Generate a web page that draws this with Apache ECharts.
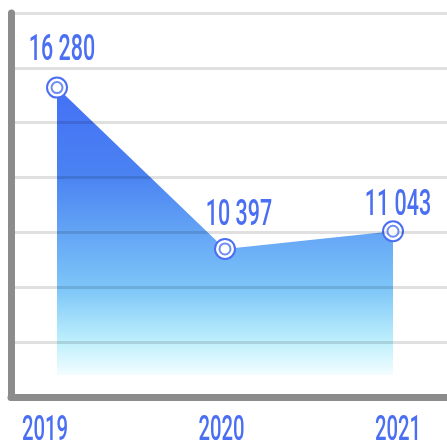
<!DOCTYPE html>
<html>
<head>
<meta charset="utf-8">
<script src="https://cdn.jsdelivr.net/npm/echarts@6/dist/echarts.min.js"></script>
<style>
  html, body { margin: 0; padding: 0; background: #ffffff; }
  #chart { width: 447px; height: 445px; }
</style>
</head>
<body>
<div id="chart"></div>
<script>
// Yearly totals
var years = ['2019', '2020', '2021'];
var totals = [16280, 10397, 11043];
var labelTexts = ['16 280', '10 397', '11 043'];
// Value axis range
var yMin = 5000;
var yMax = 19000;
var yStep = 2000;

var blue = '#4b6ff2';
var textFont = 'Roboto, "Noto Sans", sans-serif';
// label nudges relative to each point (px)
var labelShift = [[5, -37], [14, -33], [5, -25]];

var chart = echarts.init(document.getElementById('chart'), null, { renderer: 'canvas' });

// condensed-looking text drawn at a data coordinate
function condensedText(p, dx, dy, text, size) {
  return {
    type: 'text',
    x: p[0] + dx,
    y: p[1] + dy,
    scaleX: 0.58,
    style: {
      text: text,
      fill: blue,
      font: '500 ' + size + 'px ' + textFont,
      align: 'center',
      verticalAlign: 'middle'
    }
  };
}

chart.setOption({
  animation: false,
  grid: [
    { left: 11, right: 0, top: 13, bottom: 48 },   // frame + gridlines
    { left: 57, right: 54, top: 13, bottom: 48 },  // data
    { left: 45, right: 49, top: 13, bottom: 48 }   // year labels
  ],
  xAxis: [
    {
      gridIndex: 0, type: 'category', data: years, boundaryGap: false,
      axisLine: { show: true, lineStyle: { color: '#8c8c8c', width: 7, cap: 'round' } },
      axisTick: { show: false }, axisLabel: { show: false }, splitLine: { show: false }, z: 10
    },
    { gridIndex: 1, type: 'category', data: years, boundaryGap: false, show: false },
    { gridIndex: 2, type: 'category', data: years, boundaryGap: false, show: false }
  ],
  yAxis: [
    {
      gridIndex: 0, type: 'value', min: yMin, max: yMax, interval: yStep,
      axisLine: { show: true, lineStyle: { color: '#8c8c8c', width: 7, cap: 'round' } },
      axisTick: { show: false }, axisLabel: { show: false },
      splitLine: { show: true, lineStyle: { color: 'rgba(0,0,0,0.12)', width: 3 } },
      z: 10
    },
    { gridIndex: 1, type: 'value', min: yMin, max: yMax, interval: yStep, show: false },
    { gridIndex: 2, type: 'value', min: yMin, max: yMax, interval: yStep, show: false }
  ],
  series: [
    {
      type: 'line',
      xAxisIndex: 1, yAxisIndex: 1,
      data: totals,
      symbol: 'circle',
      symbolSize: 20,
      itemStyle: { color: '#ffffff', borderColor: blue, borderWidth: 2 },
      lineStyle: { width: 0 },
      areaStyle: {
        origin: 5800,
        opacity: 1,
        color: new echarts.graphic.LinearGradient(0, 0, 0, 1, [
          { offset: 0, color: '#4470f6' },
          { offset: 0.3, color: '#4a82f2' },
          { offset: 0.7, color: '#7dc6f8' },
          { offset: 0.88, color: '#bdeffc' },
          { offset: 1, color: '#f2fdff' }
        ])
      },
      z: 2
    },
    {
      type: 'scatter',
      xAxisIndex: 1, yAxisIndex: 1,
      data: totals,
      symbol: 'emptyCircle',
      symbolSize: 11,
      itemStyle: { color: blue, borderColor: blue, borderWidth: 2 },
      z: 11
    },
    {
      // value labels above the points
      type: 'custom',
      xAxisIndex: 1, yAxisIndex: 1,
      data: totals.map(function (v, i) { return [i, v]; }),
      renderItem: function (params, api) {
        var i = params.dataIndex;
        var p = api.coord([api.value(0), api.value(1)]);
        return condensedText(p, labelShift[i][0], labelShift[i][1], labelTexts[i], 37);
      },
      z: 12
    },
    {
      // year labels under the frame
      type: 'custom',
      xAxisIndex: 2, yAxisIndex: 2,
      data: years.map(function (y, i) { return [i, yMin]; }),
      renderItem: function (params, api) {
        var p = api.coord([api.value(0), api.value(1)]);
        return condensedText(p, 0, 34, years[params.dataIndex], 35);
      },
      z: 12
    }
  ]
});
</script>
</body>
</html>
